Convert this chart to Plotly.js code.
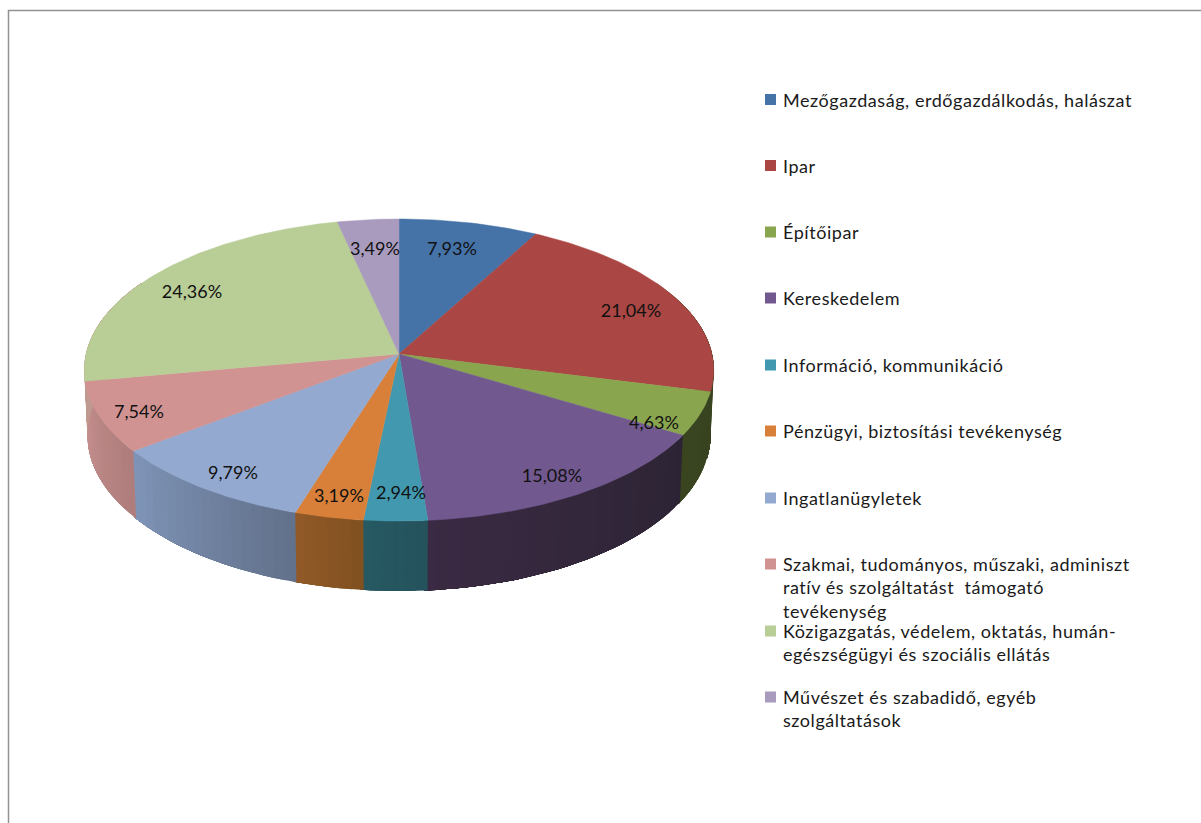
<!DOCTYPE html>
<html><head><meta charset="utf-8">
<script src="https://cdn.plot.ly/plotly-3.0.1.min.js"></script>
<style>html,body{margin:0;padding:0;background:#fff}#c{width:1201px;height:823px}
#c .annotation-text{letter-spacing:.55px}</style>
</head><body><div id="c"></div>
<script>
// ---- data ----
const categories = [
  'Mezőgazdaság, erdőgazdálkodás, halászat',
  'Ipar',
  'Építőipar',
  'Kereskedelem',
  'Információ, kommunikáció',
  'Pénzügyi, biztosítási tevékenység',
  'Ingatlanügyletek',
  'Szakmai, tudományos, műszaki, adminiszt<br>ratív és szolgáltatást  támogató<br>tevékenység',
  'Közigazgatás, védelem, oktatás, humán-<br>egészségügyi és szociális ellátás',
  'Művészet és szabadidő, egyéb<br>szolgáltatások'
];
const values = [7.93, 21.04, 4.63, 15.08, 2.94, 3.19, 9.79, 7.54, 24.36, 3.49];

// ---- styles ----
const topColors = ['#4572a7','#aa4643','#89a54e','#71588f','#4198af','#d8803a','#93a9cf','#d19392','#b9cd96','#a99bbd'];
// wall colour at the start and at the end of each slice's sweep
const wallFrom = ['#2a4466','#3a4420','#37421f','#2c2434','#24525c','#80501f','#62718b','#ae7d7b','#c09a8f','#6a6078'];
const wallTo   = ['#2a4466','#3a4420','#3a4520','#3a2a43','#275a64','#925a28','#7f95b8','#c58f8e','#c09a8f','#6a6078'];
const labelX = [452, 631, 654, 552, 401, 339, 233, 139, 192, 375];
const labelY = [250, 312, 424, 477, 494, 497, 474, 413, 293, 250];
const legendX = 765, legendTextX = 782;
const legendY = [99.5, 165.5, 232, 298, 365, 431, 498, 564, 631, 697];
const font = 'Lato, Carlito, sans-serif';

// ---- perspective disc geometry ----
const apex = {x: 399, y: 354}, R = 313, H = 149.3, K = 0.106, M = 0.01, D = 65;
function rim(deg, low) {
  const t = deg * Math.PI / 180, u = Math.sin(t), v = Math.cos(t);
  const d = 1 + K * v + (low ? M : 0);
  return [apex.x + R * u / d, apex.y - (H * v - (low ? D : 0)) / d];
}
const total = values.reduce((a, b) => a + b, 0);
let acc = 0;
const angles = values.map(v => { const s = acc; acc += v; return [s / total * 360, acc / total * 360]; });

function mix(a, b, f) {
  const p = c => [1, 3, 5].map(i => parseInt(c.substr(i, 2), 16));
  const A = p(a), B = p(b);
  return 'rgb(' + A.map((x, i) => Math.round(x + (B[i] - x) * f)).join(',') + ')';
}

const traces = [];
function poly(xs, ys, color) {
  traces.push({type: 'scatter', mode: 'lines', x: xs, y: ys, fill: 'toself', fillcolor: color,
    line: {color: color, width: 0}, hoverinfo: 'skip', showlegend: false});
}

// side wall: each band reaches to the slice's end and the next band paints over it,
// so no seams show between bands
angles.forEach(([a0, a1], i) => {
  const from = Math.max(a0, 60), to = Math.min(a1 + 0.5, 300);
  if (to <= from) return;
  const n = Math.max(1, Math.ceil((to - from) / 2));
  for (let s = 0; s < n; s++) {
    const up = [], low = [];
    for (let k = s; k <= n; k++) {
      const t = from + (to - from) * k / n;
      up.push(rim(t));
      low.unshift(rim(t, true));
    }
    const pts = up.concat(low);
    pts.push(pts[0]);
    poly(pts.map(p => p[0]), pts.map(p => p[1]), mix(wallFrom[i], wallTo[i], (s + 0.5) / n));
  }
});

// top surface
angles.forEach(([a0, a1], i) => {
  const xs = [apex.x], ys = [apex.y];
  const n = Math.ceil(a1 - a0);
  for (let s = 0; s <= n; s++) {
    const p = rim(a0 + (a1 - a0) * s / n);
    xs.push(p[0]); ys.push(p[1]);
  }
  xs.push(apex.x); ys.push(apex.y);
  traces.push({type: 'scatter', mode: 'lines', x: xs, y: ys, fill: 'toself', fillcolor: topColors[i],
    line: {color: topColors[i], width: 0.5}, hoverinfo: 'skip', showlegend: false});
});

// data labels
traces.push({type: 'scatter', mode: 'text', x: labelX, y: labelY,
  text: values.map(v => v.toFixed(2).replace('.', ',') + '%'),
  textposition: 'middle center', textfont: {family: font, size: 18, color: '#111'},
  hoverinfo: 'skip', showlegend: false});

// legend swatches
traces.push({type: 'scatter', mode: 'markers',
  x: legendY.map(() => legendX + 5.5), y: legendY,
  marker: {symbol: 'square', size: 11, color: topColors, line: {width: 0}},
  hoverinfo: 'skip', showlegend: false});

const annotations = categories.map((c, i) => ({
  xref: 'x', yref: 'y', x: legendTextX, y: legendY[i] - 12, text: c,
  xanchor: 'left', yanchor: 'top', align: 'left', showarrow: false,
  font: {family: font, size: 18, color: '#1a1a1a'}, borderpad: 0
}));

const layout = {
  width: 1201, height: 823, margin: {l: 0, r: 0, t: 0, b: 0},
  paper_bgcolor: '#fff', plot_bgcolor: '#fff', showlegend: false,
  xaxis: {range: [0, 1201], visible: false, fixedrange: true},
  yaxis: {range: [823, 0], visible: false, fixedrange: true},
  annotations,
  shapes: [{type: 'path', path: 'M8.5,823 L8.5,10.5 L1201,10.5', xref: 'x', yref: 'y',
    line: {color: '#929292', width: 1.5}}]
};
Plotly.newPlot('c', traces, layout, {displayModeBar: false, staticPlot: true});
</script></body></html>
